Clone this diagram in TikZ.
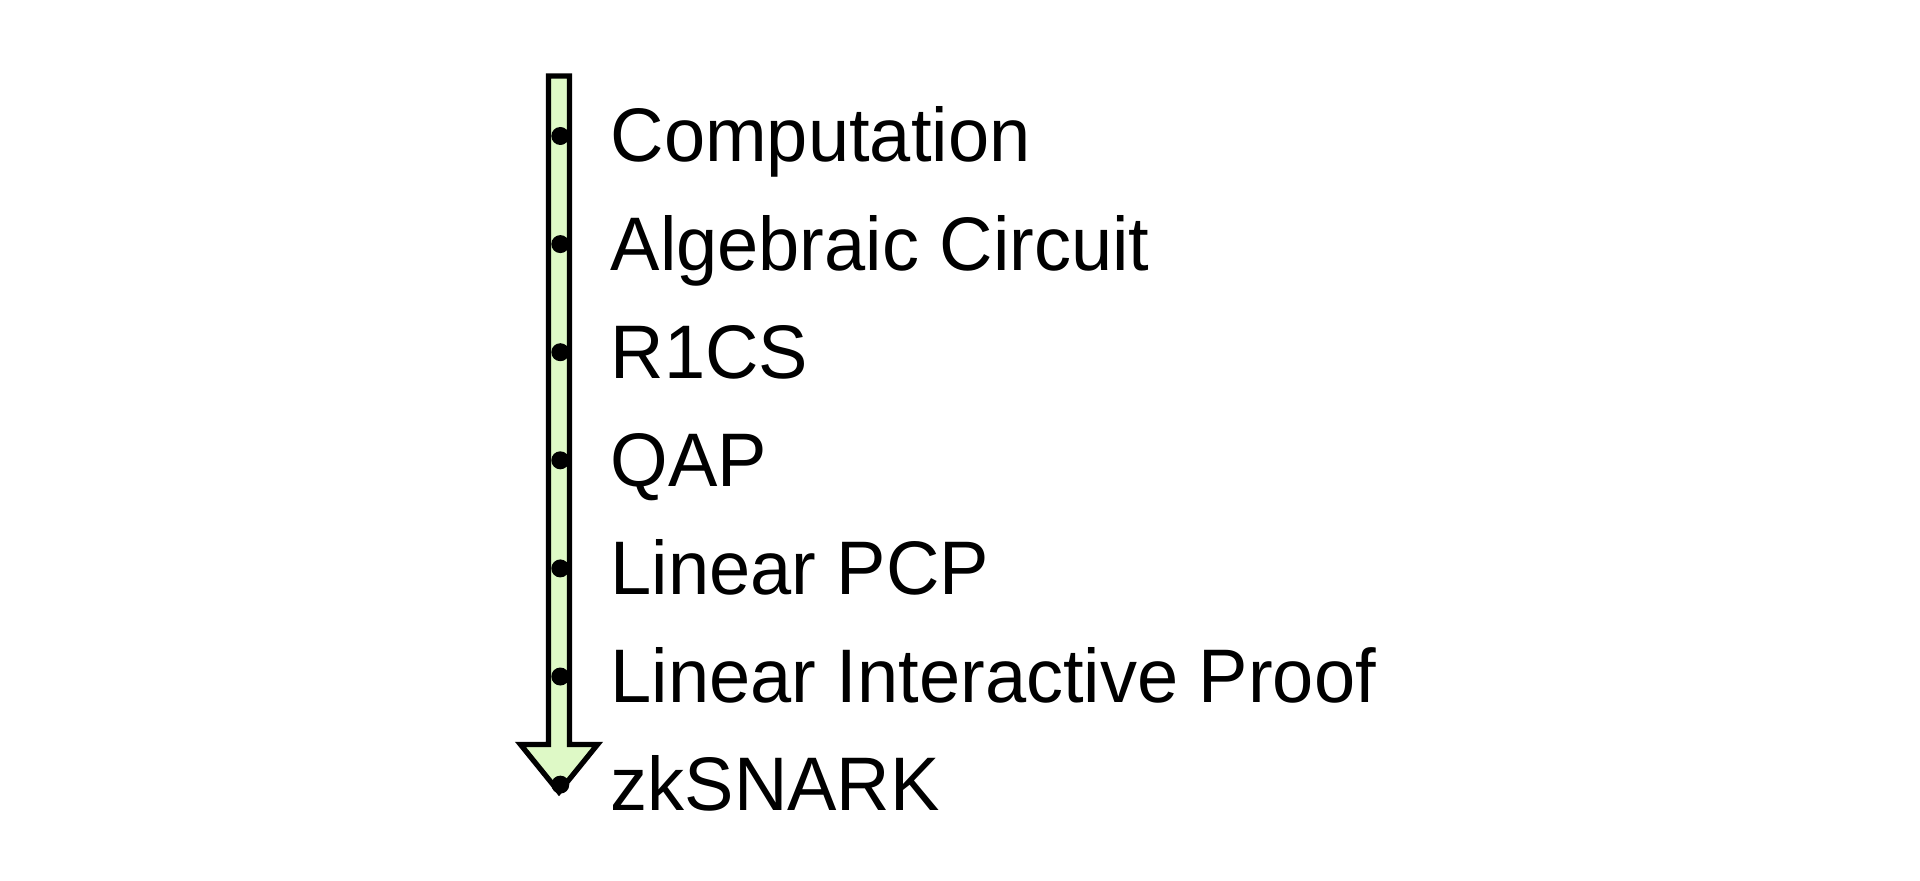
\documentclass[tikz,border=0pt]{standalone}
\usepackage{fontspec}
\setmainfont[FakeStretch=0.975]{Liberation Sans}
\usepackage{tikz}
\usetikzlibrary{positioning}
\definecolor{clShaft}{HTML}{DEF9C6}
\tikzset{
  stage/.style={inner sep=0pt, text height=6.8mm, text depth=1.6mm, anchor=west,
                font=\fontsize{21.6}{25}\selectfont},
  stagedot/.style={circle, fill=black, inner sep=0pt, minimum size=1.8mm},
  pipe/.style={draw=black, line width=1.5pt, fill=clShaft, line join=miter},
}

\begin{document}
\begin{tikzpicture}[node distance=2.27mm and 4.0mm]
  \useasboundingbox (0,0) rectangle (19.2,-8.81);
  % the big downward arrow
  \path[pipe] (5.485,-0.76) -- (5.695,-0.76) -- (5.695,-7.445) -- (5.975,-7.445)
    -- (5.59,-7.92) -- (5.205,-7.445) -- (5.485,-7.445) -- cycle;
  % stages, top to bottom
  \node[stage, anchor=base west] (comp) at (6.10,-1.62) {Computation};
  \node[stage, below=of comp.south west, anchor=north west] (circ) {Algebraic Circuit};
  \node[stage, below=of circ.south west, anchor=north west] (rcs) {R1CS};
  \node[stage, below=of rcs.south west, anchor=north west] (qap) {QAP};
  \node[stage, below=of qap.south west, anchor=north west] (pcp) {Linear PCP};
  \node[stage, below=of pcp.south west, anchor=north west] (lip) {Linear Interactive Proof};
  \node[stage, below=of lip.south west, anchor=north west] (snark) {zkSNARK};
  % dots on the arrow
  \node[stagedot, left=of comp] (dcomp) {};
  \node[stagedot, left=of circ] (dcirc) {};
  \node[stagedot, left=of rcs] (drcs) {};
  \node[stagedot, left=of qap] (dqap) {};
  \node[stagedot, left=of pcp] (dpcp) {};
  \node[stagedot, left=of lip] (dlip) {};
  \node[stagedot, left=of snark] (dsnark) {};
\end{tikzpicture}
\end{document}
